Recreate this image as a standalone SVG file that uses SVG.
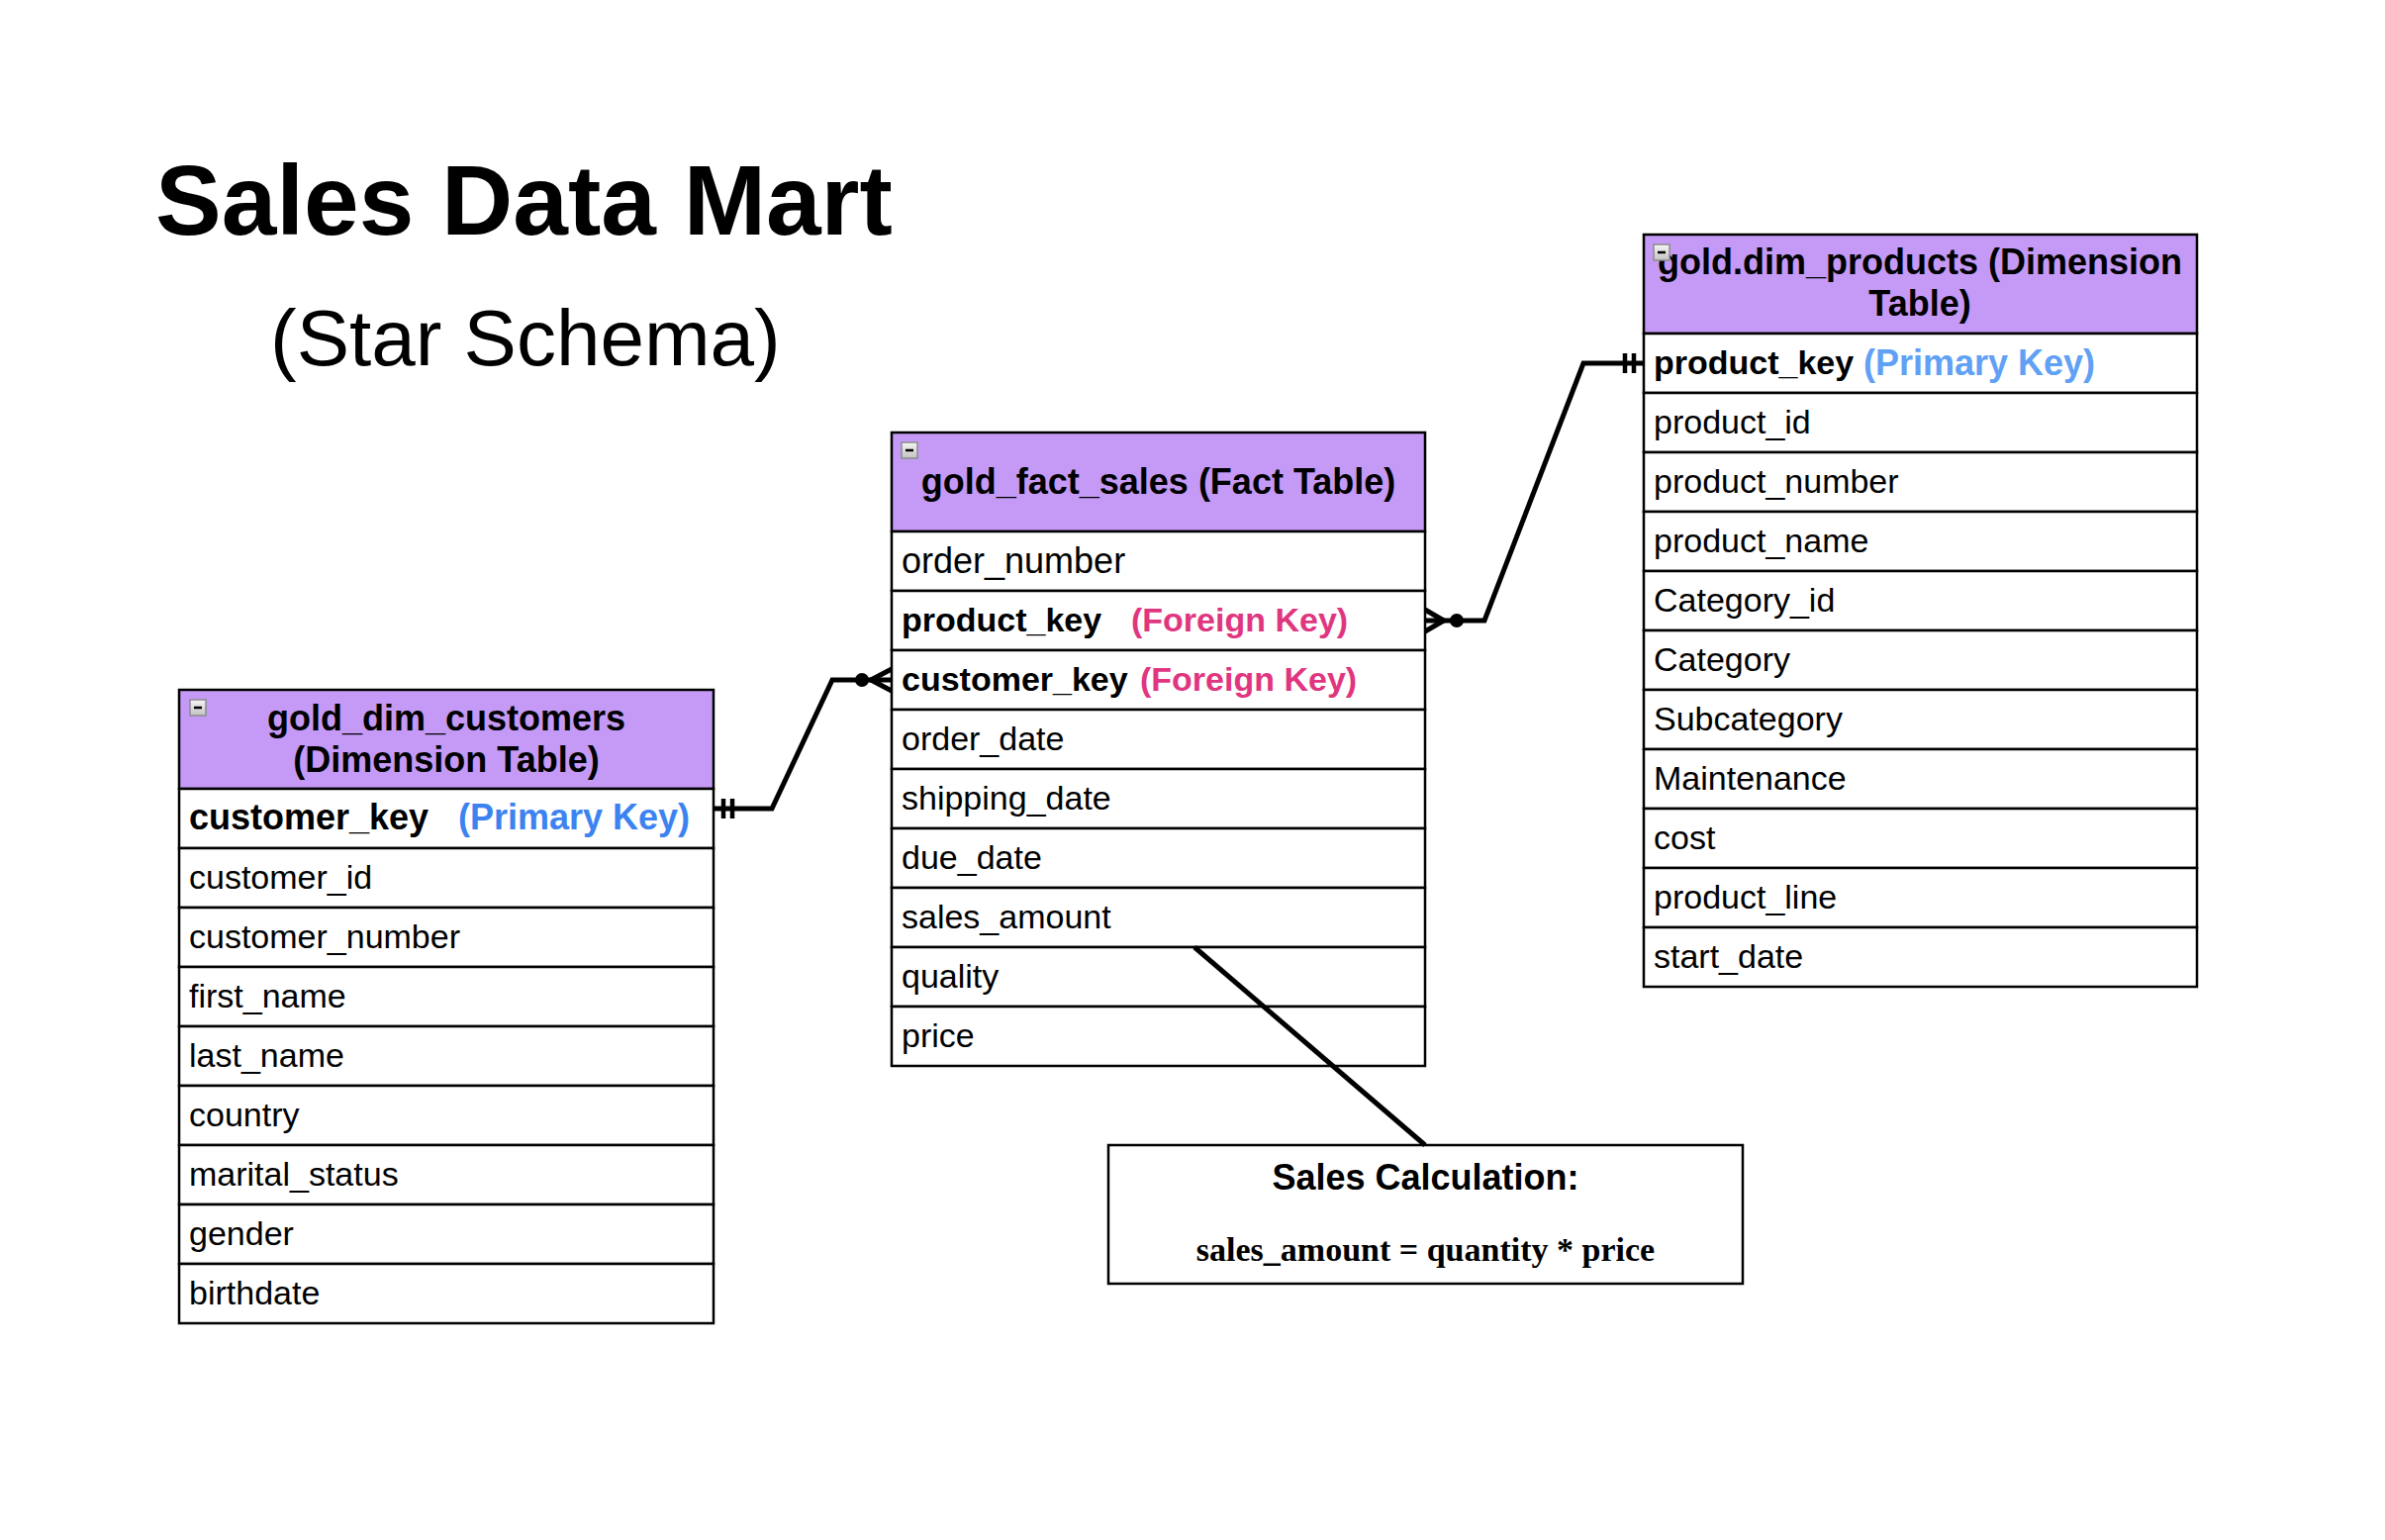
<svg xmlns="http://www.w3.org/2000/svg" width="2410" height="1556" viewBox="0 0 2410 1556">
<defs>
<linearGradient id="btn" x1="0" y1="0" x2="0" y2="1"><stop offset="0" stop-color="#f6f6f6"/><stop offset="1" stop-color="#c2c2c2"/></linearGradient>
<g id="collapse"><rect x="0" y="0" width="16" height="16" fill="url(#btn)" stroke="#8c8c8c" stroke-width="1.5"/><line x1="4" y1="8" x2="12" y2="8" stroke="#000" stroke-width="2.5"/></g>
</defs>
<style>
.hdr{fill:#C49AF6;stroke:#000;stroke-width:2.5}
.row{fill:#fff;stroke:#000;stroke-width:2.5}
.t{font-family:"Liberation Sans",Arial,Helvetica,sans-serif;font-size:34px;fill:#000}
.b{font-weight:bold}
.big{font-size:36px}
.h{font-family:"Liberation Sans",Arial,Helvetica,sans-serif;font-size:36px;font-weight:bold;text-anchor:middle;fill:#000}
.pk{fill:#3D83F0}
.pk2{fill:#60A0F5}
.fk{fill:#E0367F}
.conn{fill:none;stroke:#000;stroke-width:5}
.bar{stroke:#000;stroke-width:4.5}
</style>
<rect x="0" y="0" width="2410" height="1556" fill="#fff"/>

<g id="title">
<text x="157" y="237" font-family="'Liberation Sans',Arial,Helvetica,sans-serif" font-size="100" font-weight="bold">Sales Data Mart</text>
<text x="273" y="369" font-family="'Liberation Sans',Arial,Helvetica,sans-serif" font-size="80">(Star Schema)</text>
</g>

<g id="gold_dim_customers">
<rect class="hdr" x="181" y="697" width="540" height="100"/>
<use href="#collapse" x="192" y="707"/>
<text class="h" x="451" y="738">gold_dim_customers</text>
<text class="h" x="451" y="780">(Dimension Table)</text>
<rect class="row" x="181" y="797" width="540" height="60"/>
<rect class="row" x="181" y="857" width="540" height="60"/>
<rect class="row" x="181" y="917" width="540" height="60"/>
<rect class="row" x="181" y="977" width="540" height="60"/>
<rect class="row" x="181" y="1037" width="540" height="60"/>
<rect class="row" x="181" y="1097" width="540" height="60"/>
<rect class="row" x="181" y="1157" width="540" height="60"/>
<rect class="row" x="181" y="1217" width="540" height="60"/>
<rect class="row" x="181" y="1277" width="540" height="60"/>
<text class="t b big" x="191" y="838">customer_key</text>
<text class="t b big pk" x="463" y="838">(Primary Key)</text>
<text class="t" x="191" y="898">customer_id</text>
<text class="t" x="191" y="958">customer_number</text>
<text class="t" x="191" y="1018">first_name</text>
<text class="t" x="191" y="1078">last_name</text>
<text class="t" x="191" y="1138">country</text>
<text class="t" x="191" y="1198">marital_status</text>
<text class="t" x="191" y="1258">gender</text>
<text class="t" x="191" y="1318">birthdate</text>
</g>

<g id="gold_fact_sales">
<rect class="hdr" x="901" y="437" width="539" height="100"/>
<use href="#collapse" x="911" y="447"/>
<text class="h" x="1170.5" y="499">gold_fact_sales (Fact Table)</text>
<rect class="row" x="901" y="537" width="539" height="60"/>
<rect class="row" x="901" y="597" width="539" height="60"/>
<rect class="row" x="901" y="657" width="539" height="60"/>
<rect class="row" x="901" y="717" width="539" height="60"/>
<rect class="row" x="901" y="777" width="539" height="60"/>
<rect class="row" x="901" y="837" width="539" height="60"/>
<rect class="row" x="901" y="897" width="539" height="60"/>
<rect class="row" x="901" y="957" width="539" height="60"/>
<rect class="row" x="901" y="1017" width="539" height="60"/>
<text class="t big" x="911" y="579">order_number</text>
<text class="t b" x="911" y="638">product_key</text>
<text class="t b fk" x="1143" y="638">(Foreign Key)</text>
<text class="t b" x="911" y="698">customer_key</text>
<text class="t b fk" x="1152" y="698">(Foreign Key)</text>
<text class="t" x="911" y="758">order_date</text>
<text class="t" x="911" y="818">shipping_date</text>
<text class="t" x="911" y="878">due_date</text>
<text class="t" x="911" y="938">sales_amount</text>
<text class="t" x="911" y="998">quality</text>
<text class="t" x="911" y="1058">price</text>
</g>

<g id="gold_dim_products">
<rect class="hdr" x="1661" y="237" width="559" height="100"/>
<text class="h" x="1940" y="277">gold.dim_products (Dimension</text>
<text class="h" x="1940" y="319">Table)</text>
<use href="#collapse" x="1671" y="247"/>
<rect class="row" x="1661" y="337" width="559" height="60"/>
<rect class="row" x="1661" y="397" width="559" height="60"/>
<rect class="row" x="1661" y="457" width="559" height="60"/>
<rect class="row" x="1661" y="517" width="559" height="60"/>
<rect class="row" x="1661" y="577" width="559" height="60"/>
<rect class="row" x="1661" y="637" width="559" height="60"/>
<rect class="row" x="1661" y="697" width="559" height="60"/>
<rect class="row" x="1661" y="757" width="559" height="60"/>
<rect class="row" x="1661" y="817" width="559" height="60"/>
<rect class="row" x="1661" y="877" width="559" height="60"/>
<rect class="row" x="1661" y="937" width="559" height="60"/>
<text class="t b" x="1671" y="378">product_key</text>
<text class="t b big pk2" x="1883" y="379">(Primary Key)</text>
<text class="t" x="1671" y="438">product_id</text>
<text class="t" x="1671" y="498">product_number</text>
<text class="t" x="1671" y="558">product_name</text>
<text class="t" x="1671" y="618">Category_id</text>
<text class="t" x="1671" y="678">Category</text>
<text class="t" x="1671" y="738">Subcategory</text>
<text class="t" x="1671" y="798">Maintenance</text>
<text class="t" x="1671" y="858">cost</text>
<text class="t" x="1671" y="918">product_line</text>
<text class="t" x="1671" y="978">start_date</text>
</g>

<g id="sales_calculation">
<rect x="1120" y="1157" width="641" height="140" fill="#fff" stroke="#000" stroke-width="2.5"/>
<text class="h" x="1440.5" y="1202">Sales Calculation:</text>
<text x="1440.5" y="1274" font-family="'Liberation Serif','Times New Roman',serif" font-size="34" font-weight="bold" text-anchor="middle">sales_amount = quantity * price</text>
</g>

<g id="connectors">
<polyline class="conn" points="721,817 780,817 841,687 901,687"/>
<line class="bar" x1="731" y1="807" x2="731" y2="827"/>
<line class="bar" x1="740" y1="807" x2="740" y2="827"/>
<circle cx="871" cy="687" r="7" fill="#000"/>
<polyline class="conn" points="901,676 880,687 901,698"/>
<polyline class="conn" points="1440,627 1500,627 1600,367 1661,367"/>
<polyline class="conn" points="1440,616 1459,627 1440,638"/>
<circle cx="1472" cy="627" r="7" fill="#000"/>
<line class="bar" x1="1642" y1="357" x2="1642" y2="377"/>
<line class="bar" x1="1651" y1="357" x2="1651" y2="377"/>
<line class="conn" x1="1207" y1="957" x2="1440" y2="1157"/>
</g>
</svg>
